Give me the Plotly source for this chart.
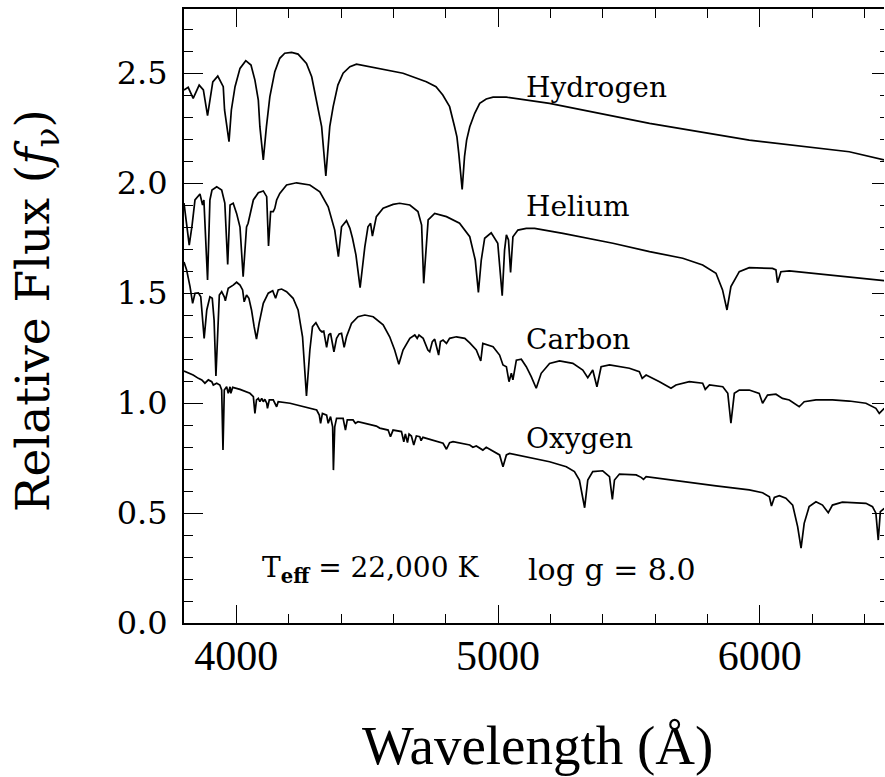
import plotly.graph_objects as go

# ---------------- data ----------------
h_wl = [3800, 3816, 3835, 3858, 3874, 3890, 3910, 3929, 3950, 3955, 3972, 3981, 3995, 4014, 4036,
        4056, 4071, 4084, 4090, 4103, 4115, 4128, 4147, 4166, 4185, 4211, 4236, 4268, 4288, 4307,
        4326, 4342, 4357, 4370, 4388, 4408, 4434, 4459, 4536, 4637, 4726, 4763, 4789, 4815, 4834,
        4843, 4850, 4863, 4872, 4880, 4892, 4911, 4930, 4955, 4981, 5032, 5197, 5579, 5960, 6342, 6476]
h_fx = [2.423, 2.435, 2.385, 2.445, 2.423, 2.306, 2.460, 2.486, 2.438, 2.332, 2.188, 2.332, 2.438, 2.521, 2.556,
        2.536, 2.468, 2.377, 2.256, 2.105, 2.256, 2.392, 2.506, 2.567, 2.590, 2.594, 2.586, 2.544, 2.483, 2.377,
        2.256, 2.032, 2.256, 2.347, 2.445, 2.499, 2.529, 2.540, 2.521, 2.499, 2.460, 2.438, 2.400, 2.347, 2.256,
        2.210, 2.135, 1.971, 2.120, 2.195, 2.256, 2.317, 2.362, 2.382, 2.390, 2.390, 2.362, 2.271, 2.195, 2.142, 2.105]

he_wl = [3800, 3820, 3831, 3842, 3861, 3871, 3876, 3890, 3899, 3907, 3925, 3944, 3956, 3967, 3976, 3988,
         4001, 4014, 4026, 4039, 4045, 4065, 4084, 4103, 4116, 4123, 4131, 4141, 4147, 4154, 4166, 4192,
         4230, 4281, 4319, 4351, 4376, 4390, 4402, 4421, 4434, 4444, 4457, 4473, 4491, 4503, 4513, 4520,
         4535, 4561, 4599, 4624, 4663, 4694, 4708, 4716, 4733, 4758, 4803, 4853, 4892, 4913, 4925, 4936,
         4949, 4974, 4999, 5016, 5025, 5032, 5040, 5048, 5057, 5076, 5108, 5140, 5248, 5439, 5579, 5706,
         5782, 5833, 5858, 5875, 5890, 5922, 5960, 6049, 6062, 6068, 6081, 6113, 6476]
he_fx = [1.909, 1.718, 1.809, 1.923, 1.950, 1.900, 1.923, 1.559, 1.923, 1.968, 1.983, 1.968, 1.909, 1.630, 1.900, 1.908,
         1.862, 1.800, 1.574, 1.800, 1.817, 1.923, 1.956, 1.964, 1.938, 1.714, 1.870, 1.870, 1.885, 1.923, 1.953, 1.991,
         2.001, 1.991, 1.960, 1.892, 1.786, 1.665, 1.801, 1.829, 1.794, 1.749, 1.673, 1.524, 1.710, 1.801, 1.817, 1.759,
         1.847, 1.885, 1.903, 1.908, 1.900, 1.870, 1.809, 1.544, 1.832, 1.862, 1.847, 1.817, 1.756, 1.650, 1.503, 1.650,
         1.749, 1.774, 1.726, 1.488, 1.695, 1.764, 1.741, 1.594, 1.756, 1.786, 1.794, 1.794, 1.771, 1.726, 1.688, 1.658,
         1.627, 1.590, 1.514, 1.423, 1.529, 1.597, 1.615, 1.612, 1.605, 1.547, 1.597, 1.601, 1.556]

c_wl = [3800, 3810, 3823, 3833, 3842, 3855, 3864, 3871, 3877, 3887, 3899, 3908, 3915, 3922, 3929, 3935,
        3944, 3954, 3958, 3969, 3988, 4001, 4014, 4024, 4030, 4039, 4048, 4058, 4068, 4077, 4087, 4103,
        4122, 4139, 4150, 4160, 4173, 4192, 4217, 4236, 4253, 4268, 4281, 4291, 4304, 4319, 4326, 4334,
        4345, 4353, 4360, 4373, 4383, 4393, 4402, 4412, 4421, 4440, 4465, 4491, 4523, 4561, 4586, 4605,
        4621, 4637, 4663, 4682, 4691, 4698, 4714, 4732, 4739, 4749, 4758, 4773, 4780, 4790, 4803, 4815,
        4841, 4873, 4892, 4917, 4934, 4942, 4981, 5006, 5019, 5032, 5042, 5051, 5057, 5070, 5089, 5108,
        5127, 5146, 5165, 5197, 5235, 5286, 5324, 5343, 5362, 5378, 5394, 5426, 5502, 5540, 5551, 5566,
        5617, 5661, 5680, 5731, 5782, 5792, 5808, 5859, 5878, 5890, 5903, 5922, 5960, 5998, 6011, 6030,
        6062, 6087, 6113, 6151, 6170, 6215, 6278, 6342, 6406, 6444, 6457, 6476]
c_fx = [1.641, 1.605, 1.529, 1.453, 1.499, 1.501, 1.483, 1.377, 1.294, 1.423, 1.483, 1.476, 1.377, 1.123, 1.377, 1.491,
        1.506, 1.483, 1.465, 1.521, 1.536, 1.549, 1.536, 1.514, 1.460, 1.491, 1.476, 1.423, 1.347, 1.291, 1.362, 1.453,
        1.499, 1.510, 1.476, 1.514, 1.518, 1.506, 1.476, 1.423, 1.301, 1.032, 1.241, 1.347, 1.365, 1.332, 1.324, 1.327,
        1.253, 1.309, 1.317, 1.233, 1.294, 1.314, 1.317, 1.253, 1.301, 1.362, 1.392, 1.400, 1.392, 1.355, 1.301, 1.241,
        1.176, 1.241, 1.294, 1.309, 1.294, 1.309, 1.294, 1.241, 1.233, 1.279, 1.290, 1.218, 1.279, 1.286, 1.271, 1.294,
        1.301, 1.294, 1.273, 1.241, 1.191, 1.271, 1.256, 1.218, 1.173, 1.165, 1.097, 1.135, 1.105, 1.195, 1.199, 1.165,
        1.120, 1.067, 1.135, 1.180, 1.191, 1.180, 1.150, 1.115, 1.150, 1.074, 1.165, 1.173, 1.158, 1.142, 1.112, 1.127,
        1.097, 1.067, 1.082, 1.097, 1.090, 1.062, 1.082, 1.074, 1.044, 0.908, 1.044, 1.059, 1.059, 1.044, 0.999, 1.036,
        1.040, 1.021, 1.014, 0.983, 1.006, 1.014, 1.014, 1.009, 0.999, 0.976, 0.953, 0.976]

o_wl = [3800, 3835, 3855, 3868, 3880, 3893, 3906, 3912, 3925, 3937, 3944, 3949, 3954, 3963, 3969, 3976,
        3979, 3986, 4014, 4052, 4065, 4071, 4077, 4084, 4090, 4097, 4103, 4109, 4116, 4119, 4126, 4141,
        4154, 4160, 4205, 4268, 4307, 4317, 4322, 4329, 4345, 4351, 4360, 4368, 4371, 4376, 4383, 4408,
        4417, 4424, 4446, 4455, 4465, 4535, 4548, 4580, 4589, 4599, 4631, 4640, 4646, 4654, 4660, 4669,
        4678, 4688, 4701, 4706, 4713, 4790, 4803, 4815, 4828, 4892, 4904, 4917, 4942, 4955, 4981, 5006,
        5019, 5032, 5044, 5133, 5152, 5197, 5261, 5292, 5311, 5331, 5343, 5362, 5400, 5426, 5437, 5445,
        5464, 5528, 5547, 5556, 5566, 5706, 5833, 5960, 6011, 6037, 6045, 6056, 6075, 6100, 6126, 6145,
        6158, 6170, 6189, 6215, 6240, 6262, 6278, 6316, 6406, 6431, 6444, 6453, 6461, 6476]
o_fx = [1.145, 1.127, 1.112, 1.105, 1.090, 1.105, 1.097, 1.082, 1.090, 1.082, 1.059, 0.786, 1.059, 1.074, 1.044, 1.074,
        1.044, 1.071, 1.062, 1.044, 1.029, 0.953, 1.014, 1.021, 1.006, 1.021, 1.006, 1.017, 0.999, 0.976, 1.014, 1.014,
        0.983, 1.006, 0.999, 0.980, 0.968, 0.945, 0.908, 0.953, 0.945, 0.908, 0.938, 0.892, 0.695, 0.892, 0.930, 0.930,
        0.877, 0.923, 0.923, 0.908, 0.915, 0.895, 0.886, 0.877, 0.847, 0.877, 0.870, 0.824, 0.859, 0.820, 0.859, 0.850,
        0.809, 0.850, 0.847, 0.829, 0.844, 0.817, 0.790, 0.820, 0.824, 0.809, 0.799, 0.805, 0.786, 0.799, 0.783, 0.764,
        0.710, 0.764, 0.771, 0.749, 0.741, 0.733, 0.710, 0.688, 0.650, 0.524, 0.650, 0.688, 0.692, 0.665, 0.562, 0.650,
        0.677, 0.673, 0.662, 0.653, 0.665, 0.642, 0.623, 0.605, 0.592, 0.574, 0.532, 0.571, 0.579, 0.567, 0.536, 0.438,
        0.340, 0.453, 0.529, 0.551, 0.536, 0.501, 0.536, 0.549, 0.544, 0.529, 0.499, 0.377, 0.506, 0.521]

series_names = ["Hydrogen", "Helium", "Carbon", "Oxygen"]
series_wl = [h_wl, he_wl, c_wl, o_wl]
series_fx = [h_fx, he_fx, c_fx, o_fx]
label_x = 5100
label_y = [2.436, 1.891, 1.290, 0.840]

x_range = [3800, 6475]
y_range = [0, 2.791]

# each curve is attached to one of the (overlaid, identical-range) axes so that
# every tick-only axis gets drawn
axis_pairs = [("x", "y"), ("x2", "y2"), ("x", "y3"), ("x2", "y4")]

# ---------------- figure ----------------
fig = go.Figure()
for (wl, fx, nm), (xa, ya) in zip(zip(series_wl, series_fx, series_names), axis_pairs):
    fig.add_trace(go.Scatter(x=wl, y=fx, mode="lines", name=nm,
                             line=dict(color="black", width=1.7),
                             xaxis=xa, yaxis=ya,
                             showlegend=False, hoverinfo="skip"))

serif = "DejaVu Serif"
tnr = "Liberation Serif"
tick_common = dict(ticks="inside", tickwidth=1.3, tickcolor="black",
                   showgrid=False, zeroline=False)

fig.update_layout(
    width=885, height=777,
    margin=dict(l=184, r=1, t=9, b=154),
    paper_bgcolor="white", plot_bgcolor="white",
    showlegend=False,
    xaxis=dict(
        range=x_range, tickmode="linear", tick0=0, dtick=1000, ticklen=18,
        showline=True, linecolor="black", linewidth=2, mirror="ticks",
        tickfont=dict(family=tnr, size=42, color="black"),
        ticklabelstandoff=-5, **tick_common,
    ),
    xaxis2=dict(
        range=x_range, overlaying="x", anchor="y", side="bottom",
        tickmode="linear", tick0=0, dtick=200, ticklen=9, mirror="ticks",
        showline=False, showticklabels=False, **tick_common,
    ),
    yaxis=dict(
        range=y_range, tickmode="linear", tick0=0, dtick=0.5, tickformat=".1f", ticklen=19,
        showline=True, linecolor="black", linewidth=2, mirror=False,
        tickfont=dict(family=serif, size=32, color="black"),
        ticklabelstandoff=8, **tick_common,
    ),
    yaxis2=dict(
        range=y_range, overlaying="y", anchor="x", side="left",
        tickmode="linear", tick0=0, dtick=0.1, ticklen=9,
        showline=False, showticklabels=False, **tick_common,
    ),
    yaxis3=dict(
        range=y_range, overlaying="y", anchor="x", side="right",
        tickmode="linear", tick0=0, dtick=0.5, ticklen=12,
        showline=False, showticklabels=False, **tick_common,
    ),
    yaxis4=dict(
        range=y_range, overlaying="y", anchor="x", side="right",
        tickmode="linear", tick0=0, dtick=0.1, ticklen=4,
        showline=False, showticklabels=False, **tick_common,
    ),
)

annotations = []
for nm, ly in zip(series_names, label_y):
    annotations.append(dict(x=label_x, y=ly, xref="x", yref="y", text=nm, showarrow=False,
                            xanchor="left", yanchor="middle",
                            font=dict(family=serif, size=28, color="black")))
annotations.append(dict(x=4090, y=0.241, xref="x", yref="y",
                        text="T<sub><b>eff</b></sub> = 22,000 K", showarrow=False,
                        xanchor="left", yanchor="middle",
                        font=dict(family=serif, size=28, color="black")))
annotations.append(dict(x=5105, y=0.241, xref="x", yref="y",
                        text="log g = 8.0", showarrow=False,
                        xanchor="left", yanchor="middle",
                        font=dict(family=serif, size=30, color="black")))
annotations.append(dict(x=(36 - 184) / 700, y=(623 - 311) / 614, xref="paper", yref="paper",
                        text="Relative Flux (<i>f</i><sub>ν</sub>)", showarrow=False, textangle=-90,
                        xanchor="center", yanchor="middle",
                        font=dict(family=serif, size=47, color="black")))
annotations.append(dict(x=(537 - 184) / 700, y=(623 - 745) / 614, xref="paper", yref="paper",
                        text="Wavelength (Å)", showarrow=False,
                        xanchor="center", yanchor="middle",
                        font=dict(family=tnr, size=55, color="black")))
fig.update_layout(annotations=annotations)

fig.write_html("out.html")
